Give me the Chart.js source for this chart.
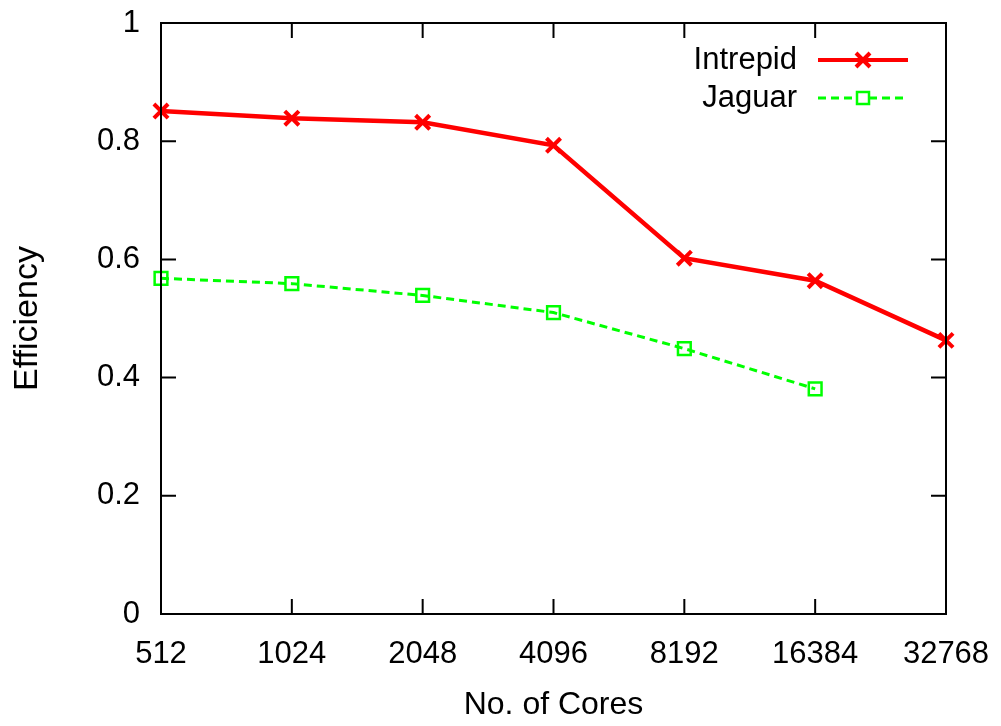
<!DOCTYPE html>
<html><head><meta charset="utf-8">
<script src="https://cdn.jsdelivr.net/npm/chart.js@4.4.1/dist/chart.umd.min.js"></script>
<style>html,body{margin:0;padding:0;background:#fff}#wrap{width:1001px;height:726px}</style>
</head><body><div id="wrap"><canvas id="c" width="1001" height="726"></canvas></div>
<script>
const categories = ["512","1024","2048","4096","8192","16384","32768"];
const intrepid = [0.851, 0.839, 0.832, 0.793, 0.602, 0.564, 0.463];
const jaguar = [0.568, 0.559, 0.539, 0.510, 0.449, 0.381, null];
const yTicks = [0, 0.2, 0.4, 0.6, 0.8, 1];
const seriesNames = ["Intrepid", "Jaguar"];
const xTitle = "No. of Cores";
const yTitle = "Efficiency";

const FONT = "'Liberation Sans', Arial, sans-serif";
const FS = 31;

const framePlugin = {
  id: 'frame',
  afterDraw(chart) {
    const ctx = chart.ctx, a = chart.chartArea;
    const xs = chart.scales.x, ys = chart.scales.y;
    ctx.save();
    ctx.strokeStyle = '#000'; ctx.lineWidth = 2;
    ctx.strokeRect(a.left, a.top, a.right - a.left, a.bottom - a.top);
    const L = 15;
    ctx.beginPath();
    yTicks.forEach(v => {
      const y = ys.getPixelForValue(v);
      ctx.moveTo(a.left, y); ctx.lineTo(a.left + L, y);
      ctx.moveTo(a.right, y); ctx.lineTo(a.right - L, y);
    });
    categories.forEach((c, i) => {
      const x = xs.getPixelForValue(i);
      ctx.moveTo(x, a.bottom); ctx.lineTo(x, a.bottom - L);
      ctx.moveTo(x, a.top); ctx.lineTo(x, a.top + L);
    });
    ctx.stroke();

    // legend
    ctx.font = FS + 'px ' + FONT;
    ctx.fillStyle = '#000';
    ctx.textAlign = 'right'; ctx.textBaseline = 'middle';
    const lx0 = 818, lx1 = 908, mx = 863;
    const rows = [60, 98];
    ctx.fillText(seriesNames[0], 797, rows[0]);
    ctx.fillText(seriesNames[1], 797, rows[1]);
    // Intrepid sample
    ctx.strokeStyle = '#ff0000'; ctx.lineWidth = 4; ctx.setLineDash([]);
    ctx.beginPath(); ctx.moveTo(lx0, rows[0]); ctx.lineTo(lx1, rows[0]); ctx.stroke();
    ctx.beginPath();
    const r = 7;
    ctx.moveTo(mx - r, rows[0] - r); ctx.lineTo(mx + r, rows[0] + r);
    ctx.moveTo(mx - r, rows[0] + r); ctx.lineTo(mx + r, rows[0] - r);
    ctx.stroke();
    // Jaguar sample
    ctx.strokeStyle = '#00ff00'; ctx.lineWidth = 3; ctx.setLineDash([8, 5]);
    ctx.beginPath(); ctx.moveTo(lx0, rows[1]); ctx.lineTo(mx - 6, rows[1]); ctx.stroke();
    ctx.beginPath(); ctx.moveTo(mx + 6, rows[1]); ctx.lineTo(lx1, rows[1]); ctx.stroke();
    ctx.setLineDash([]); ctx.lineWidth = 2.5;
    ctx.strokeRect(mx - 6, rows[1] - 6, 12, 12);
    ctx.restore();
  }
};

new Chart(document.getElementById('c'), {
  type: 'line',
  data: {
    labels: categories,
    datasets: [
      { label: seriesNames[0], data: intrepid, borderColor: '#ff0000', backgroundColor: '#ff0000',
        borderWidth: 4.5, pointStyle: 'crossRot', pointRadius: 10, pointBorderWidth: 4,
        pointBorderColor: '#ff0000', tension: 0, clip: false },
      { label: seriesNames[1], data: jaguar, borderColor: '#00ff00', backgroundColor: 'rgba(0,0,0,0)',
        borderWidth: 3, borderDash: [8, 5], pointStyle: 'rect', pointRadius: 9, pointBorderWidth: 2.5,
        pointBorderColor: '#00ff00', pointBackgroundColor: 'rgba(0,0,0,0)', tension: 0, clip: false }
    ]
  },
  options: {
    responsive: false, animation: false, devicePixelRatio: 1,
    layout: { padding: { left: 0, top: 23, right: 55, bottom: 0 } },
    plugins: { legend: { display: false }, tooltip: { enabled: false } },
    scales: {
      x: {
        type: 'category', offset: false,
        grid: { display: false, drawTicks: false },
        border: { display: false },
        ticks: { color: '#000', font: { family: FONT, size: FS }, padding: 22, maxRotation: 0, autoSkip: false },
        title: { display: true, text: xTitle, color: '#000', font: { family: FONT, size: 32 }, padding: { top: 12, bottom: 2 } },
        afterFit(s) { s.height = 112; s.paddingLeft = 0; s.paddingRight = 0; }
      },
      y: {
        min: 0, max: 1,
        afterBuildTicks(s) { s.ticks = yTicks.map(v => ({ value: v })); },
        grid: { display: false, drawTicks: false },
        border: { display: false },
        ticks: { color: '#000', font: { family: FONT, size: FS }, padding: 21,
          callback: v => String(v) },
        title: { display: true, text: yTitle, color: '#000', font: { family: FONT, size: 34 }, padding: { top: 7, bottom: 20 } },
        afterFit(s) { s.width = 161; s.paddingTop = 0; s.paddingBottom = 0; }
      }
    }
  },
  plugins: [framePlugin]
});
</script></body></html>
